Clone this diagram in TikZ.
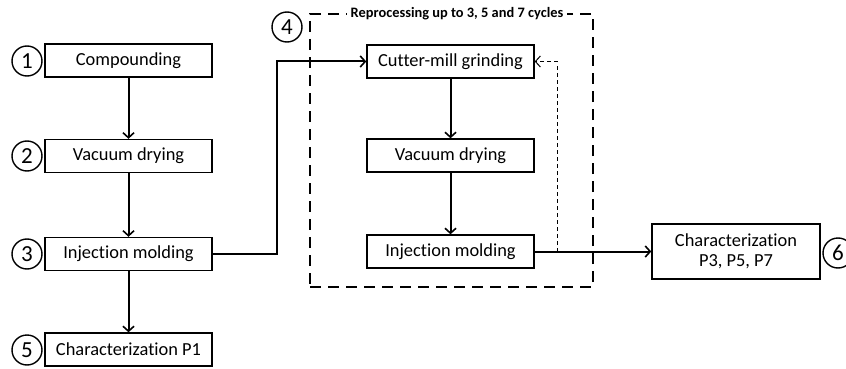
\documentclass[tikz,border=0pt]{standalone}
\usepackage{fontspec}
\setmainfont{Carlito}[Ligatures=NoCommon]
\usetikzlibrary{arrows.meta}
\begin{document}
\begin{tikzpicture}[x=1pt,y=-1pt,
  box/.style={draw,line width=1.4pt,minimum width=167pt,minimum height=33pt,inner sep=0pt,font=\fontsize{18.4}{20}\selectfont,align=center},
  num/.style={draw,circle,line width=1.4pt,minimum size=30pt,inner sep=0pt,font=\fontsize{23}{23}\selectfont},
  flow/.style={line width=2pt,-{Straight Barb[length=5pt,width=11pt,line width=1.6pt]}},
  fb/.style={line width=0.9pt,dash pattern=on 4pt off 3pt,-{Straight Barb[length=5pt,width=11pt,line width=1pt]}}
]
\useasboundingbox (0,0) rectangle (846,369);
% dashed group frame
\node[draw,line width=2.6pt,dash pattern=on 11pt off 7pt,minimum width=283pt,minimum height=273pt,inner sep=0pt] (grp) at (451.5,150.5) {};
\node[fill=white,inner sep=4pt,font=\bfseries\fontsize{14.4}{16}\selectfont] (title) at (457,14) {Reprocessing up to 3, 5 and 7 cycles};
% left column
\node[box] (b1) at (128.5,60.5) {Compounding};
\node[box] (b2) at (128.5,156) {Vacuum drying};
\node[box] (b3) at (128.5,254) {Injection molding};
\node[box] (b5) at (128.5,349.5) {Characterization P1};
\node[num] (n1) at (27,61) {1};
\node[num] (n2) at (27,156) {2};
\node[num] (n3) at (27,254) {3};
\node[num] (n5) at (27,350) {5};
% reprocessing column
\node[box] (c1) at (450.5,61.5) {Cutter-mill grinding};
\node[box] (c2) at (450.5,155.5) {Vacuum drying};
\node[box] (c3) at (450.5,251.5) {Injection molding};
\node[num] (n4) at (287,27) {4};
% characterization
\node[box,minimum width=168pt,minimum height=55pt] (ch) at (736,251.5) {Characterization\\P3, P5, P7};
\node[num] (n6) at (838,253) {6};
% connectors
\draw[flow] (b1) -- (b2);
\draw[flow] (b2) -- (b3);
\draw[flow] (b3) -- (b5);
\coordinate (k) at (277,61.5);
\draw[flow] (b3.east) -| (k) -- (c1.west);
\draw[flow] (c1) -- (c2);
\draw[flow] (c2) -- (c3);
\draw[flow] (c3.east) -- (ch.west);
\coordinate (f1) at (557,251.5);
\coordinate (f2) at (557,61.5);
\draw[fb] (f1) -- (f2) -- (c1.east);
\end{tikzpicture}
\end{document}
